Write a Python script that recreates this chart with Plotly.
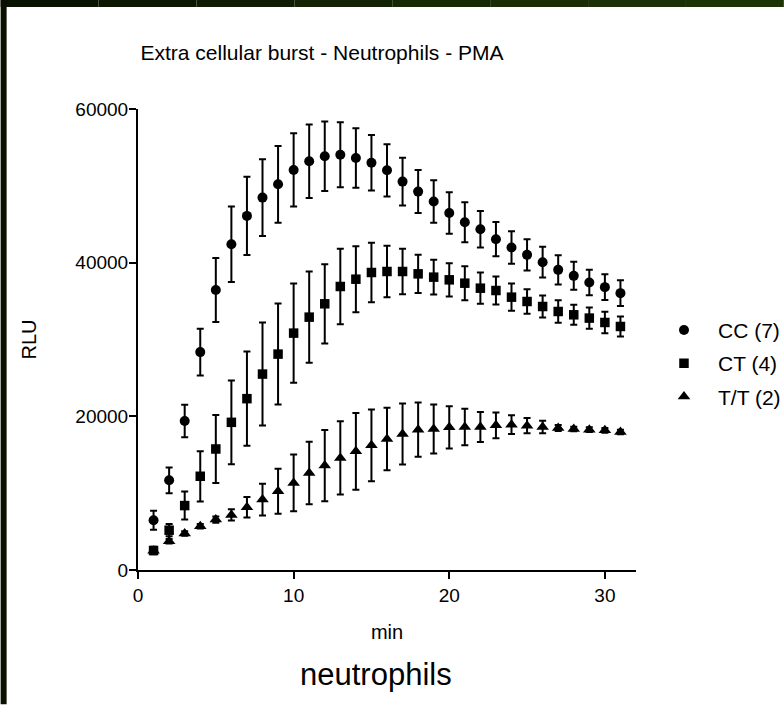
import plotly.graph_objects as go

minutes = list(range(1, 32))

cc_mean = [6475, 11675, 19390, 28360, 36450, 42400, 46085, 48470, 50200, 52065,
           53200, 53850, 54050, 53620, 53000, 52020, 50550, 49250, 47950, 46475,
           45260, 44350, 43050, 41970, 41015, 40060, 39065, 38285, 37415, 36815, 36035]
cc_err = [1240, 1670, 2120, 3050, 4170, 4900, 5100, 5000, 5000, 4770,
          4770, 4530, 4230, 3880, 3600, 3400, 3100, 2800, 2770, 2700,
          2600, 2360, 2230, 2120, 2040, 2000, 1900, 1820, 1670, 1690, 1670]

ct_mean = [2535, 5180, 8385, 12200, 15750, 19220, 22300, 25500, 28100, 30830,
           32910, 34645, 36900, 37850, 38720, 38850, 38850, 38545, 38115, 37765,
           37330, 36680, 36375, 35510, 34945, 34295, 33645, 33215, 32785, 32215, 31695]
ct_err = [500, 800, 1820, 3270, 4420, 5460, 6130, 6700, 6570, 6470,
          5940, 5160, 4900, 4300, 3860, 3340, 2950, 2500, 2250, 2170,
          2210, 2040, 1820, 1780, 1580, 1430, 1470, 1300, 1370, 1400, 1300]

tt_mean = [2500, 3750, 4745, 5700, 6565, 7170, 8165, 9165, 10245, 11335,
           12635, 13585, 14585, 15445, 16225, 17055, 17700, 18265, 18355, 18565,
           18615, 18615, 18825, 18915, 18785, 18615, 18485, 18355, 18265, 18175, 17965]
tt_err = [0, 300, 300, 300, 400, 740, 1340, 2060, 2925, 3700,
          4070, 4640, 4770, 5000, 4660, 4070, 3970, 3520, 3185, 2750,
          2380, 1950, 1690, 1210, 1000, 820, 400, 300, 300, 300, 300]

series = [
    ("CC (7)", cc_mean, cc_err, "circle", 10),
    ("CT (4)", ct_mean, ct_err, "square", 9.5),
    ("T/T (2)", tt_mean, tt_err, "triangle-up", 11),
]

x_ticks = [0, 10, 20, 30]
y_ticks = [0, 20000, 40000, 60000]

FONT = "Liberation Sans, Arial, sans-serif"

# plot area in pixels
L, R, T, B = 137.5, 636.0, 109.0, 570.5
PW, PH = R - L, B - T


def px(x):
    return (x - L) / PW


def py(y):
    return (B - y) / PH


fig = go.Figure()
for name, mean, err, sym, size in series:
    fig.add_trace(go.Scatter(
        x=minutes, y=mean, name=name, mode="markers", legendgroup=name,
        marker=dict(symbol=sym, size=size, color="black", line=dict(width=0)),
        error_y=dict(type="data", array=err, visible=True, color="black",
                     thickness=2, width=3.5),
    ))

top_cols = ["#0a1200", "#0d1700", "#101c01", "#132202", "#162703", "#192c04", "#1b3005", "#1d3306"]
n = len(top_cols)
frame = []
for i, c in enumerate(top_cols):
    frame.append(dict(type="rect", xref="paper", yref="paper",
                      x0=px(i * 784 / n), x1=px((i + 1) * 784 / n),
                      y0=py(7), y1=py(0),
                      fillcolor=c, line=dict(width=0), layer="above"))
frame.append(dict(type="rect", xref="paper", yref="paper",
                  x0=px(0), x1=px(6), y0=py(705), y1=py(0),
                  fillcolor="#0a1000", line=dict(width=0), layer="above"))

fig.update_layout(
    width=784, height=705,
    margin=dict(l=L, r=784 - R, t=T, b=705 - B, autoexpand=False),
    paper_bgcolor="white", plot_bgcolor="white",
    font=dict(family=FONT, color="black", size=19),
    title=dict(text="Extra cellular burst - Neutrophils - PMA", x=322 / 784, xanchor="center",
               y=1 - 53 / 705, yanchor="middle", font=dict(size=21, family=FONT, color="black")),
    xaxis=dict(range=[0, 32], tickvals=x_ticks, ticks="outside", ticklen=7, tickwidth=2,
               tickcolor="black", showline=True, linewidth=2, linecolor="black",
               showgrid=False, zeroline=False, tickfont=dict(size=19),
               title=dict(text="min", font=dict(size=20), standoff=20)),
    yaxis=dict(range=[0, 60000], tickvals=y_ticks, tickformat="d", ticks="outside",
               ticklen=7, tickwidth=2, tickcolor="black", showline=True, linewidth=2,
               linecolor="black", showgrid=False, zeroline=False, tickfont=dict(size=19),
               ticklabelstandoff=-3,
               title=dict(text="RLU", font=dict(size=20), standoff=33)),
    legend=dict(x=px(650), xanchor="left", y=py(310), yanchor="top",
                font=dict(size=21), bgcolor="rgba(0,0,0,0)", itemwidth=58,
                traceorder="grouped", tracegroupgap=3),
    showlegend=True,
    shapes=frame,
    annotations=[dict(text="neutrophils", xref="paper", yref="paper",
                      x=px(376), y=py(675), xanchor="center",
                      yanchor="middle", showarrow=False, font=dict(size=31, family=FONT))],
)

fig.write_html("out.html")
